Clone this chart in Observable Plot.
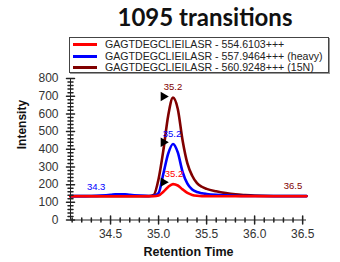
<!DOCTYPE html>
<html><head><meta charset="utf-8">
<script src="https://cdn.jsdelivr.net/npm/d3@7"></script>
<script src="https://cdn.jsdelivr.net/npm/@observablehq/plot@0.6"></script>
<style>
body{margin:0;width:340px;height:262px;position:relative;background:#fff;overflow:hidden;font-family:"Liberation Sans",Arial,sans-serif}
#title{position:absolute;left:115px;top:0;width:180px;text-align:center;font-family:Lato,sans-serif;font-weight:bold;font-size:24px;line-height:34px;color:#111}
#legend{position:absolute;left:69px;top:37px;width:258px;height:34px;border:1px solid #444;box-shadow:1px 1px 0 #999;background:#fff}
.row{position:absolute;left:0;height:11px;font-size:10.6px;line-height:11px;color:#222;white-space:nowrap}
.swatch{position:absolute;left:3px;top:4px;width:24px;height:3px}
.lbl{position:absolute;left:35px;top:0}
#chart{position:absolute;left:0;top:74px}
</style></head>
<body>
<div id="title">1095 transitions</div>
<div id="legend"></div>
<div id="chart"></div>
<script>
const seriesNames = ["GAGTDEGCLIEILASR - 554.6103+++", "GAGTDEGCLIEILASR - 557.9464+++ (heavy)", "GAGTDEGCLIEILASR - 560.9248+++ (15N)"];
const seriesColors = ["#ff0000", "#0000ff", "#800000"];
const times = [34.08, 34.2, 34.3, 34.4, 34.5, 34.55, 34.6, 34.65, 34.7, 34.8, 34.9, 34.95, 35.0, 35.05, 35.1, 35.15, 35.2, 35.25, 35.3, 35.35, 35.4, 35.45, 35.5, 35.6, 35.7, 35.8, 35.9, 36.0, 36.2, 36.4, 36.54];
const lightValues = [134,134,134,134,134,134,134,134,134,134,134,134,138,160,187,203,195,173,153,142,137,135,135,134,134,134,134,134,134,134,134];
const heavyValues = [135,135,136,138,142,145,146,145,142,138,136,137,152,262,375,430,382,272,205,172,158,151,147,142,139,137,136,136,135,135,135];
const n15Values = [135,135,135,135,135,135,135,135,135,135,135,142,232,395,590,692,628,450,320,250,208,188,176,162,152,145,141,138,136,136,136];
const markerTimes = [35.05, 35.05, 35.05];
const markerValues = [214, 440, 698];
const labelTimes = [35.16, 35.14, 35.15, 34.35, 36.4];
const labelValues = [259, 487, 751, 185, 190];
const labelTexts = ["35.2", "35.2", "35.2", "34.3", "36.5"];
const labelSeries = [0, 1, 2, 1, 2];
const xMajor = [34.5, 35.0, 35.5, 36.0, 36.5];
const xMinor = [34.1,34.2,34.3,34.4,34.6,34.7,34.8,34.9,35.1,35.2,35.3,35.4,35.6,35.7,35.8,35.9,36.1,36.2,36.3,36.4];
const yMajor = [0,100,200,300,400,500,600,700,800];
const yMinor = d3.range(0, 801, 20).filter(v => v % 100 !== 0);
const xDomain = [34.083, 36.54];
const yDomain = [0, 800];

// legend
const legend = document.getElementById("legend");
seriesNames.forEach((name, i) => {
  const row = document.createElement("div");
  row.className = "row";
  row.style.top = (1 + i * 11.5) + "px";
  row.style.width = "258px";
  row.innerHTML = `<span class="swatch" style="background:${seriesColors[i]}"></span><span class="lbl"></span>`;
  row.querySelector(".lbl").textContent = name;
  legend.appendChild(row);
});

const series = [lightValues, heavyValues, n15Values].map((vals, s) => times.map((t, i) => ({t, v: vals[i], s})));
const tickShape = {draw(context, l) { context.moveTo(0, 0); context.lineTo(0, -l); }};
const labels = labelTexts.map((text, i) => ({t: labelTimes[i], v: labelValues[i], text, c: seriesColors[labelSeries[i]]}));
const markers = markerTimes.map((t, i) => ({t, v: markerValues[i]}));

const plot = Plot.plot({
  width: 340,
  height: 188,
  marginTop: 4,
  marginLeft: 70,
  marginRight: 34,
  marginBottom: 42.5,
  style: {fontFamily: "'Liberation Sans', Arial, sans-serif", fontSize: "12px", color: "#333", background: "transparent", overflow: "visible"},
  x: {domain: xDomain, axis: null},
  y: {domain: yDomain, axis: null},
  marks: [
    Plot.axisX(xMajor, {tickSize: 0, tickPadding: 9, tickFormat: d3.format(".1f"), fontSize: 12, label: null}),
    Plot.axisY(yMajor, {tickSize: 0, tickPadding: 12, fontSize: 12, label: null}),
    Plot.line(series[2], {x: "t", y: "v", stroke: seriesColors[2], strokeWidth: 2.6, curve: "monotone-x"}),
    Plot.line(series[1], {x: "t", y: "v", stroke: seriesColors[1], strokeWidth: 2.6, curve: "monotone-x"}),
    Plot.line(series[0], {x: "t", y: "v", stroke: seriesColors[0], strokeWidth: 2.6, curve: "monotone-x"}),
    Plot.ruleY([yDomain[0]], {stroke: "#222"}),
    Plot.ruleX([xDomain[0]], {stroke: "#222"}),
    Plot.vector(xMajor, {x: d => d, frameAnchor: "bottom", length: 8, anchor: "middle", shape: tickShape, stroke: "#222"}),
    Plot.vector(xMinor, {x: d => d, frameAnchor: "bottom", length: 4, anchor: "middle", shape: tickShape, stroke: "#222"}),
    Plot.vector(yMajor, {y: d => d, frameAnchor: "left", length: 8, rotate: 90, anchor: "middle", shape: tickShape, stroke: "#222"}),
    Plot.vector(yMinor, {y: d => d, frameAnchor: "left", length: 5, rotate: 90, anchor: "middle", shape: tickShape, stroke: "#222"}),
    Plot.dot(markers, {x: "t", y: "v", symbol: "triangle", rotate: 90, r: 3.5, fill: "black", stroke: null}),
    Plot.text(labels, {x: "t", y: "v", text: "text", fill: "c", fontSize: 9.5}),
    Plot.text(["Retention Time"], {frameAnchor: "bottom", dy: 36, fontWeight: "bold", fontSize: 12.5, fill: "#111"}),
    Plot.text(["Intensity"], {frameAnchor: "left", dx: -48, rotate: -90, fontWeight: "bold", fontSize: 12, fill: "#111"})
  ]
});
document.getElementById("chart").appendChild(plot);
</script>
</body></html>
